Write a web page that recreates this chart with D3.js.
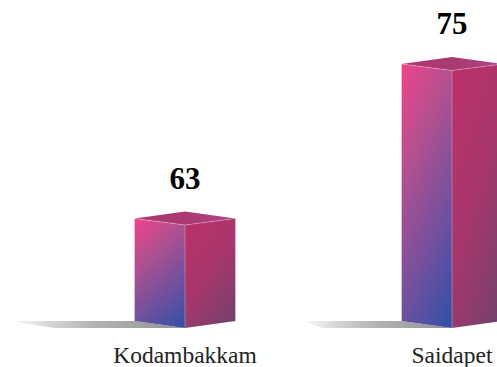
<!DOCTYPE html>
<html>
<head>
<meta charset="utf-8">
<script src="https://cdn.jsdelivr.net/npm/d3@7"></script>
<style>
  html, body { margin: 0; padding: 0; background: #fff; overflow: hidden; }
  text { font-family: "Liberation Serif", serif; }
</style>
</head>
<body>
<script>
const categories = ['Kodambakkam', 'Saidapet'];
const values = [63, 75];
const axisMin = 55; // bars do not start at zero
const axisMax = 75;

const width = 497;
const height = 367;
const halfBar = 50.5;   // half the box width on screen
const depth = 7;        // vertical skew of the box sides
const shadowLens = {Kodambakkam: 125, Saidapet: 99};
const shadowInset = {Kodambakkam: 45, Saidapet: 20};

const svg = d3.select('body').append('svg')
  .attr('width', width)
  .attr('height', height)
  .style('display', 'block');

const x = d3.scalePoint().domain(categories).range([185, 452]);
const y = d3.scaleLinear().domain([axisMin, axisMax]).range([328, 70.5]);

const defs = svg.append('defs');

function addGradient(id, x1, y1, x2, y2, stops) {
  const g = defs.append('linearGradient').attr('id', id)
    .attr('x1', x1).attr('y1', y1).attr('x2', x2).attr('y2', y2);
  stops.forEach(([o, c, a]) => g.append('stop')
    .attr('offset', o).attr('stop-color', c).attr('stop-opacity', a === undefined ? 1 : a));
}

addGradient('front', 0, 0, 0.517, 1.207,
  [[0, '#f0438a'], [0.3, '#b5508f'], [0.7, '#6a509f'], [1, '#2f50a8']]);
addGradient('side', 0.2, 0, 0.8, 1, [[0, '#ba3169'], [0.5, '#a6376c'], [1, '#77406c']]);
addGradient('top', 0, 0, 1, 0, [[0, '#b0376f'], [0.55, '#a93a72'], [1, '#b3448a']]);
addGradient('shadow', 0, 0, 1, 0, [[0, '#8c8c8c', 0], [0.5, '#a4a4a4', 0.85], [1, '#8f9092', 1]]);

const line = d3.line();
const bars = svg.selectAll('g.bar')
  .data(categories.map((c, i) => ({name: c, value: values[i]})))
  .enter().append('g').attr('class', 'bar');

// floor shadow, sits behind the box
bars.append('path')
  .attr('fill', 'url(#shadow)')
  .attr('d', d => {
    const cx = x(d.name);
    const base = y(axisMin);
    const start = cx - halfBar - shadowLens[d.name];
    return line([
      [start, base - depth],
      [cx - halfBar, base - depth],
      [cx, base],
      [start + shadowInset[d.name], base],
    ]) + 'Z';
  });

// top face
bars.append('path')
  .attr('fill', 'url(#top)')
  .attr('d', d => {
    const cx = x(d.name);
    const t = y(d.value);
    return line([
      [cx - halfBar, t - 6.5], [cx, t - 13.5], [cx + halfBar, t - 6.5], [cx, t],
    ]) + 'Z';
  });

// front face
bars.append('path')
  .attr('fill', 'url(#front)')
  .attr('d', d => {
    const cx = x(d.name);
    const t = y(d.value);
    const base = y(axisMin);
    return line([
      [cx - halfBar, t - 6.5], [cx, t], [cx, base], [cx - halfBar, base - depth],
    ]) + 'Z';
  });

// side face
bars.append('path')
  .attr('fill', 'url(#side)')
  .attr('d', d => {
    const cx = x(d.name);
    const t = y(d.value);
    const base = y(axisMin);
    return line([
      [cx, t], [cx + halfBar, t - 6.5], [cx + halfBar, base - depth], [cx, base],
    ]) + 'Z';
  });

// pale edges
bars.append('path')
  .attr('fill', 'none')
  .attr('stroke', '#fff')
  .attr('stroke-opacity', 0.35)
  .attr('stroke-width', 0.8)
  .attr('d', d => {
    const cx = x(d.name);
    const t = y(d.value);
    const base = y(axisMin);
    return line([
      [cx - halfBar, base - depth], [cx - halfBar, t - 6.5], [cx, t],
      [cx + halfBar, t - 6.5], [cx + halfBar, base - depth],
    ]) + line([[cx, t], [cx, base]]);
  });

// value labels
bars.append('text')
  .attr('x', d => x(d.name))
  .attr('y', d => y(d.value) - 36.5)
  .attr('text-anchor', 'middle')
  .attr('font-size', 31)
  .attr('font-weight', 'bold')
  .attr('fill', '#000')
  .text(d => d.value);

// category labels
bars.append('text')
  .attr('x', d => x(d.name))
  .attr('y', 363)
  .attr('text-anchor', 'middle')
  .attr('font-size', 23.5)
  .attr('fill', '#222')
  .text(d => d.name);
</script>
</body>
</html>
